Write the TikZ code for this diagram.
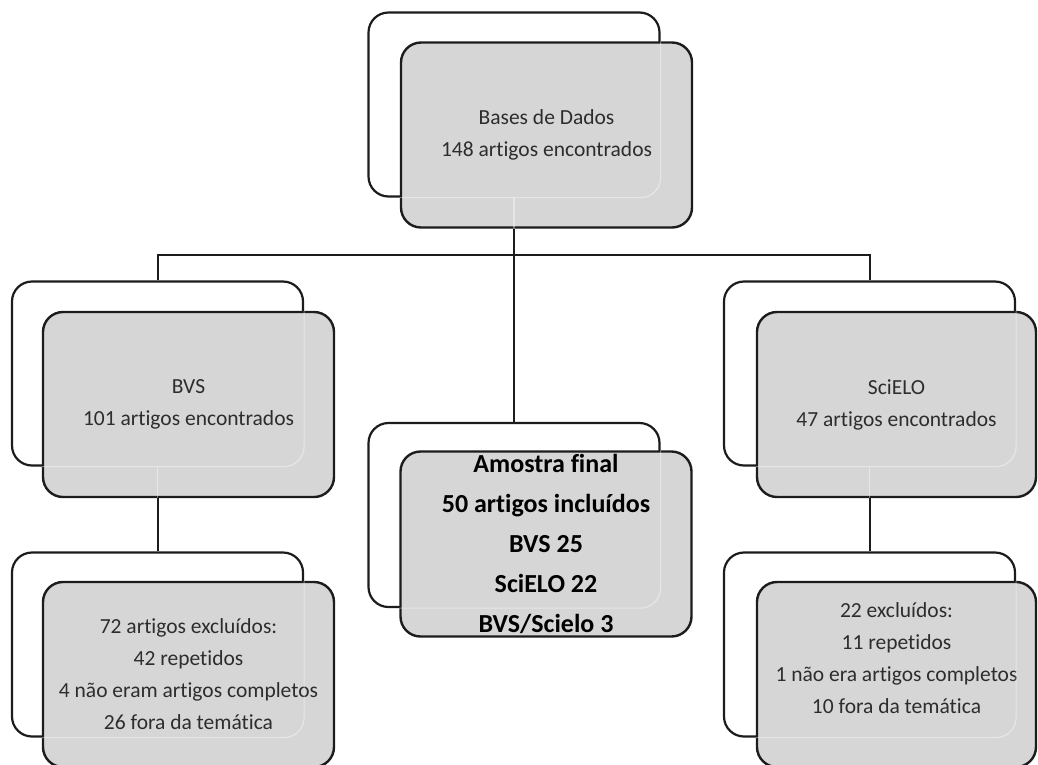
\documentclass[tikz,border=0pt]{standalone}
\usepackage{fontspec}
\setmainfont{Carlito}[Ligatures=NoCommon]
\usetikzlibrary{positioning,calc}
\definecolor{BoxGray}{RGB}{214,214,214}
\definecolor{EdgeDark}{RGB}{28,28,28}
\definecolor{TextDark}{RGB}{45,45,45}
\tikzset{
  back/.style={draw=EdgeDark,fill=white,line width=2.2pt,rounded corners=20pt,
    minimum width=291pt,minimum height=184pt},
  front/.style={draw=EdgeDark,fill=BoxGray,line width=2.4pt,rounded corners=20pt,
    minimum width=291pt,minimum height=185pt,align=center,inner sep=0pt,
    text=TextDark,font=\fontsize{21.5}{32}\selectfont},
  final/.style={front,text=black,font=\fontsize{26}{40}\selectfont\bfseries},
  ghost/.style={draw=white,draw opacity=0.4,line width=1.2pt,rounded corners=20pt},
  link/.style={line width=2pt,EdgeDark}
}

\begin{document}
\begin{tikzpicture}[x=1pt,y=-1pt]
  \useasboundingbox (0,0) rectangle (1038,764);
  % back boxes
  \node[back] (topw) at (514,104.5) {};
  \node[back] (bvsw) at (157.5,373.5) {};
  \node[back] (scw) at (869.5,373.5) {};
  \node[back] (midw) at (514,515) {};
  \node[back] (exbw) at (157.5,644.5) {};
  \node[back] (exsw) at (869.5,644.5) {};
  % connectors
  \coordinate (split) at (514,255);
  \draw[link] (topw.south) -- (midw.north);
  \draw[link] (bvsw.north) |- (split) -| (scw.north);
  \draw[link] (bvsw.south) -- (exbw.north);
  \draw[link] (scw.south) -- (exsw.north);
  % front boxes
  \node[front] (top) at (546.5,135) {Bases de Dados\\148 artigos encontrados};
  \node[front] (bvs) at (188.5,404.5) {BVS\\101 artigos encontrados};
  \node[front,minimum width=279pt] (sc) at (896.5,404.5) {SciELO\\47 artigos encontrados};
  \node[final] (mid) at (546,544)
    {Amostra final\\50 artigos incluídos\\BVS 25\\SciELO 22\\BVS/Scielo 3};
  \node[front] (exb) at (188.5,674.5)
    {72 artigos excluídos:\\42 repetidos\\4 não eram artigos completos\\26 fora da temática};
  \node[front,minimum width=279pt] (exs) at (896.5,674.5) {};
  \node[align=center,text=TextDark,font=\fontsize{21.5}{32}\selectfont] (exstext) at (896.5,658)
    {22 excluídos:\\11 repetidos\\1 não era artigos completos\\10 fora da temática};
  % outlines seen through the front boxes
  \foreach \g/\w in {top/topw,bvs/bvsw,sc/scw,mid/midw,exb/exbw,exs/exsw}{
    \begin{scope}
      \clip[rounded corners=20pt] (\g.south west) rectangle (\g.north east);
      \draw[ghost] (\w.south west) rectangle (\w.north east);
    \end{scope}
  }
  \draw[ghost] (topw.south) -- (topw.south |- top.south);
  \draw[ghost] (bvsw.south) -- (bvsw.south |- bvs.south);
  \draw[ghost] (scw.south) -- (scw.south |- sc.south);
\end{tikzpicture}
\end{document}
